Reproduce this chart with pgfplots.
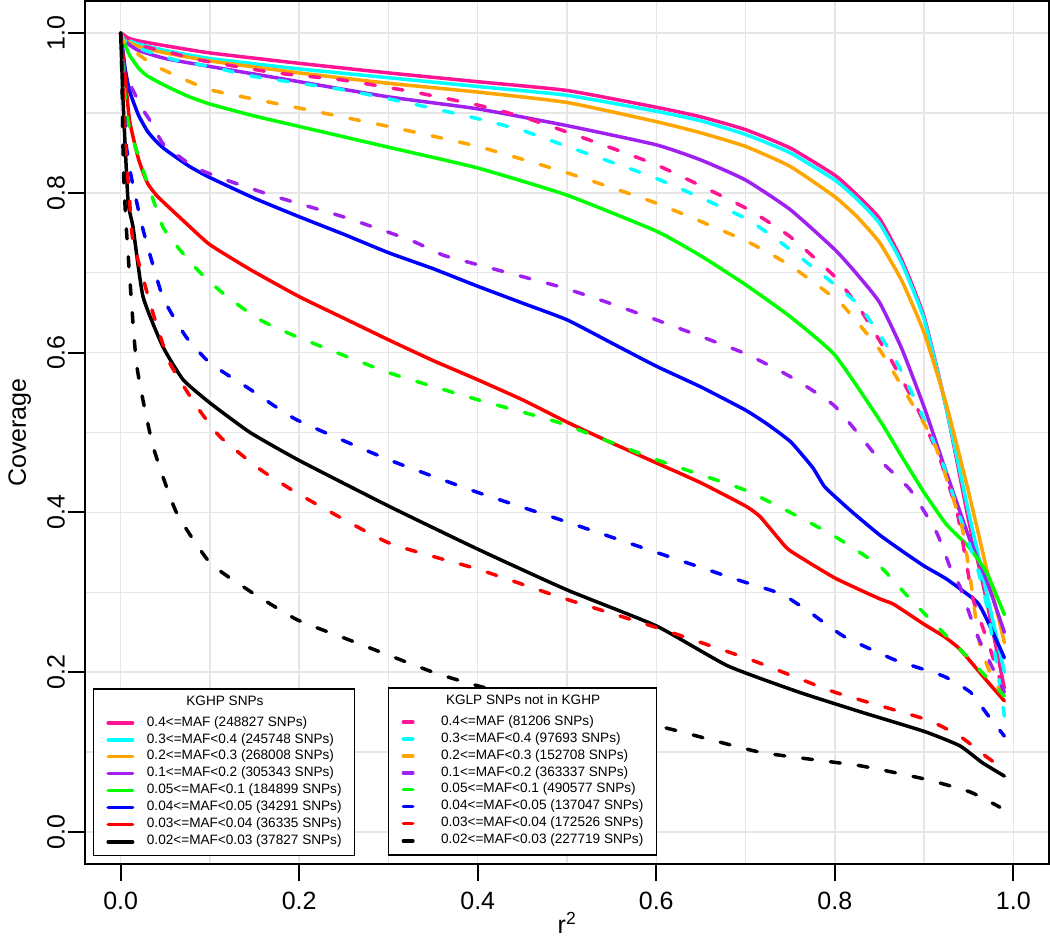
\documentclass[border=0pt]{standalone}
\usepackage{fontspec}
\setmainfont{Liberation Sans}
\usepackage{pgfplots}
\pgfplotsset{compat=1.18}
\definecolor{cPink}{HTML}{FF1493}
\definecolor{cCyan}{HTML}{00FFFF}
\definecolor{cOrange}{HTML}{FFA500}
\definecolor{cPurple}{HTML}{A020F0}
\definecolor{cGreen}{HTML}{00FF00}
\definecolor{cBlue}{HTML}{0000FF}
\definecolor{cRed}{HTML}{FF0000}
\definecolor{cGrid}{HTML}{E6E6E6}
\pgfplotsset{
  base/.style={
    scale only axis, width=964pt, height=863pt,
    xmin=-0.04, xmax=1.04, ymin=-0.04, ymax=1.04,
    at={(0pt,0pt)}, anchor=south west,
  },
  curve/.style={line width=3.5pt, line cap=round, line join=round, no markers, smooth, tension=0.3},
  dsh/.style={curve, dash pattern=on 10pt off 18pt},
  lgbase/.style={
    legend cell align=left,
    legend style={anchor=north west, draw=black, line width=1.5pt, fill=white,
      font=\fontsize{13.6}{16}\selectfont, inner xsep=13pt, inner ysep=7pt,
      row sep=4.9pt, nodes={inner sep=0pt, text height=9.3pt, text depth=2.7pt}},
  },
}
\begin{document}
\begin{tikzpicture}
\useasboundingbox (-85pt,-78pt) rectangle (965pt,864pt);
\begin{axis}[base, lgbase,
  legend style={at={(axis cs:-0.0314,0.18)}, column sep=12.5pt},
  legend image code/.code={\draw[#1] (0pt,0pt) -- (24.5pt,0pt);},
  xtick={0,0.2,0.4,0.6,0.8,1.0}, ytick={0,0.2,0.4,0.6,0.8,1.0},
  minor xtick={0.1,0.3,0.5,0.7,0.9}, minor ytick={0.1,0.3,0.5,0.7,0.9},
  grid=both, major grid style={cGrid, line width=1.5pt}, minor grid style={cGrid, line width=1.5pt},
  minor tick length=0pt, major tick length=17pt,
  tick pos=left, tick align=outside,
  tick style={black, line width=2pt},
  axis line style={line width=2pt},
  /pgf/number format/fixed, /pgf/number format/fixed zerofill,
  /pgf/number format/precision=1, /pgf/number format/assume math mode=true,
  tick label style={font=\fontsize{25}{30}\selectfont, inner sep=0pt},
  xticklabel style={yshift=-11pt, anchor=north},
  yticklabel style={xshift=-3pt, rotate=90, anchor=south},
  xlabel={r\textsuperscript{2}}, ylabel={Coverage},
  every axis x label/.style={at={(axis description cs:0.5,-0.0811)}, anchor=base, font=\fontsize{25}{30}\selectfont},
  every axis y label/.style={at={(axis description cs:-0.0612,0.5)}, rotate=90, anchor=base, font=\fontsize{25}{30}\selectfont},
]
\addlegendimage{empty legend}
\addlegendentry[text depth=6.7pt]{\makebox[156pt][c]{KGHP SNPs}}
% pink solid
\addplot[curve, cPink] coordinates {(0,1.0) (0.005,0.996) (0.01,0.993) (0.02,0.990) (0.05,0.984) (0.1,0.975) (0.2,0.962) (0.3,0.950) (0.4,0.939) (0.5,0.928) (0.6,0.907) (0.65,0.895) (0.7,0.879) (0.75,0.856) (0.8,0.822) (0.825,0.797) (0.85,0.768) (0.875,0.716) (0.9,0.645) (0.925,0.53) (0.95,0.39) (0.97,0.29) (0.99,0.18)};
\addlegendentry{0.4<=MAF (248827 SNPs)}
% cyan solid
\addplot[curve, cCyan] coordinates {(0,1.0) (0.005,0.994) (0.01,0.99) (0.02,0.986) (0.05,0.978) (0.1,0.968) (0.2,0.955) (0.3,0.944) (0.4,0.933) (0.5,0.922) (0.6,0.902) (0.65,0.89) (0.7,0.873) (0.75,0.85) (0.8,0.816) (0.825,0.792) (0.85,0.762) (0.875,0.712) (0.9,0.642) (0.925,0.53) (0.95,0.40) (0.97,0.30) (0.99,0.20)};
\addlegendentry{0.3<=MAF<0.4 (245748 SNPs)}
% orange solid
\addplot[curve, cOrange] coordinates {(0,1.0) (0.005,0.992) (0.01,0.988) (0.02,0.983) (0.05,0.975) (0.1,0.965) (0.2,0.950) (0.3,0.937) (0.4,0.926) (0.5,0.913) (0.6,0.889) (0.65,0.875) (0.7,0.858) (0.75,0.833) (0.8,0.795) (0.825,0.770) (0.85,0.738) (0.875,0.690) (0.9,0.625) (0.925,0.535) (0.95,0.425) (0.97,0.33) (0.99,0.237)};
\addlegendentry{0.2<=MAF<0.3 (268008 SNPs)}
% purple solid
\addplot[curve, cPurple] coordinates {(0,1.0) (0.005,0.99) (0.01,0.985) (0.02,0.978) (0.05,0.968) (0.1,0.958) (0.2,0.939) (0.3,0.92) (0.4,0.905) (0.5,0.884) (0.6,0.860) (0.65,0.841) (0.7,0.816) (0.75,0.779) (0.8,0.729) (0.825,0.698) (0.85,0.663) (0.875,0.605) (0.9,0.532) (0.925,0.45) (0.95,0.37) (0.97,0.315) (0.99,0.25)};
\addlegendentry{0.1<=MAF<0.2 (305343 SNPs)}
% green solid
\addplot[curve, cGreen] coordinates {(0,1.0) (0.005,0.985) (0.01,0.972) (0.02,0.956) (0.03,0.946) (0.05,0.934) (0.075,0.921) (0.1,0.911) (0.15,0.896) (0.2,0.883) (0.3,0.857) (0.4,0.831) (0.5,0.797) (0.6,0.752) (0.65,0.721) (0.7,0.685) (0.75,0.645) (0.8,0.597) (0.85,0.516) (0.875,0.47) (0.9,0.425) (0.925,0.385) (0.95,0.357) (0.97,0.325) (0.99,0.272)};
\addlegendentry{0.05<=MAF<0.1 (184899 SNPs)}
% blue solid
\addplot[curve, cBlue] coordinates {(0,1.0) (0.005,0.955) (0.01,0.927) (0.02,0.897) (0.03,0.877) (0.04,0.864) (0.05,0.854) (0.077,0.833) (0.1,0.819) (0.15,0.793) (0.2,0.77) (0.25,0.748) (0.3,0.725) (0.35,0.705) (0.4,0.683) (0.45,0.662) (0.5,0.641) (0.55,0.612) (0.6,0.583) (0.65,0.557) (0.7,0.528) (0.725,0.51) (0.75,0.489) (0.765,0.470) (0.776,0.455) (0.788,0.433) (0.8,0.42) (0.82,0.40) (0.85,0.372) (0.875,0.352) (0.9,0.333) (0.926,0.316) (0.96,0.287) (0.975,0.255) (0.99,0.218)};
\addlegendentry{0.04<=MAF<0.05 (34291 SNPs)}
% red solid
\addplot[curve, cRed] coordinates {(0,1.0) (0.005,0.945) (0.01,0.89) (0.02,0.842) (0.03,0.812) (0.04,0.797) (0.05,0.786) (0.075,0.76) (0.1,0.735) (0.145,0.704) (0.2,0.67) (0.25,0.643) (0.3,0.616) (0.35,0.59) (0.4,0.566) (0.45,0.541) (0.5,0.513) (0.55,0.487) (0.6,0.462) (0.65,0.437) (0.7,0.408) (0.716,0.395) (0.738,0.366) (0.75,0.352) (0.8,0.318) (0.85,0.292) (0.866,0.285) (0.9,0.26) (0.922,0.245) (0.94,0.229) (0.969,0.191) (0.99,0.164)};
\addlegendentry{0.03<=MAF<0.04 (36335 SNPs)}
% black solid
\addplot[curve, black] coordinates {(0,1.0) (0.0026,0.916) (0.0082,0.79) (0.0138,0.757) (0.025,0.67) (0.047,0.608) (0.07,0.566) (0.1,0.537) (0.145,0.5) (0.2,0.465) (0.3,0.408) (0.4,0.354) (0.5,0.303) (0.6,0.258) (0.68,0.208) (0.76,0.175) (0.83,0.15) (0.9,0.126) (0.94,0.108) (0.965,0.087) (0.99,0.07)};
\addlegendentry[text depth=4.2pt]{0.02<=MAF<0.03 (37827 SNPs)}
\end{axis}
\begin{axis}[base, lgbase, hide axis,
  legend style={at={(axis cs:0.2993,0.181)}, column sep=26.5pt},
  legend image code/.code={\draw[#1] (0pt,0pt) -- (9.5pt,0pt);},
]
\addlegendimage{empty legend}
\addlegendentry[text depth=6.7pt]{\makebox[164pt][c]{KGLP SNPs not in KGHP}}
% pink dashed
\addplot[dsh, cPink] coordinates {(0,1.0) (0.02,0.985) (0.057,0.975) (0.089,0.966) (0.119,0.96) (0.174,0.95) (0.249,0.941) (0.324,0.927) (0.399,0.91) (0.45,0.895) (0.5,0.876) (0.6,0.835) (0.7,0.781) (0.75,0.745) (0.8,0.695) (0.828,0.655) (0.863,0.591) (0.893,0.529) (0.918,0.466) (0.937,0.4) (0.948,0.333) (0.955,0.291) (0.973,0.233) (0.985,0.191) (0.99,0.175)};
\addlegendentry{0.4<=MAF (81206 SNPs)}
% cyan dashed
\addplot[dsh, cCyan] coordinates {(0,1.0) (0.005,0.99) (0.025,0.979) (0.062,0.966) (0.1,0.958) (0.152,0.945) (0.249,0.929) (0.324,0.912) (0.399,0.893) (0.45,0.878) (0.5,0.858) (0.6,0.818) (0.7,0.768) (0.75,0.729) (0.8,0.685) (0.828,0.658) (0.866,0.595) (0.895,0.529) (0.922,0.458) (0.94,0.395) (0.959,0.333) (0.969,0.29) (0.98,0.22) (0.99,0.145)};
\addlegendentry{0.3<=MAF<0.4 (97693 SNPs)}
% orange dashed
\addplot[dsh, cOrange] coordinates {(0,1.0) (0.005,0.985) (0.0176,0.975) (0.04,0.958) (0.1,0.929) (0.2,0.906) (0.3,0.883) (0.4,0.858) (0.5,0.825) (0.6,0.787) (0.7,0.740) (0.75,0.709) (0.8,0.668) (0.81,0.658) (0.85,0.604) (0.884,0.541) (0.91,0.491) (0.928,0.433) (0.943,0.379) (0.952,0.316) (0.962,0.237) (0.977,0.191) (0.99,0.17)};
\addlegendentry{0.2<=MAF<0.3 (152708 SNPs)}
% purple dashed
\addplot[dsh, cPurple] coordinates {(0,1.0) (0.003,0.96) (0.006,0.945) (0.0134,0.929) (0.025,0.904) (0.033,0.89) (0.047,0.862) (0.066,0.845) (0.084,0.831) (0.118,0.816) (0.174,0.795) (0.249,0.77) (0.324,0.741) (0.361,0.722) (0.4,0.71) (0.49,0.683) (0.537,0.666) (0.6,0.641) (0.697,0.6) (0.75,0.57) (0.8,0.533) (0.85,0.466) (0.884,0.429) (0.914,0.375) (0.933,0.32) (0.94,0.308) (0.96,0.245) (0.99,0.175)};
\addlegendentry{0.1<=MAF<0.2 (363337 SNPs)}
% green dashed
\addplot[dsh, cGreen] coordinates {(0,1.0) (0.004,0.93) (0.008,0.89) (0.014,0.866) (0.025,0.829) (0.047,0.758) (0.066,0.729) (0.089,0.7) (0.119,0.67) (0.156,0.641) (0.197,0.62) (0.3,0.575) (0.4,0.541) (0.492,0.512) (0.6,0.466) (0.697,0.429) (0.75,0.4) (0.8,0.37) (0.85,0.333) (0.88,0.297) (0.914,0.258) (0.948,0.22) (0.969,0.195) (0.99,0.17)};
\addlegendentry{0.05<=MAF<0.1 (490577 SNPs)}
% blue dashed
\addplot[dsh, cBlue] coordinates {(0,1.0) (0.003,0.92) (0.0064,0.858) (0.0118,0.82) (0.025,0.754) (0.047,0.67) (0.073,0.62) (0.1,0.587) (0.145,0.554) (0.197,0.516) (0.3,0.466) (0.4,0.425) (0.492,0.391) (0.6,0.35) (0.69,0.316) (0.74,0.298) (0.772,0.275) (0.81,0.245) (0.866,0.216) (0.922,0.195) (0.952,0.175) (0.969,0.15) (0.99,0.12)};
\addlegendentry{0.04<=MAF<0.05 (137047 SNPs)}
% red dashed
\addplot[dsh, cRed] coordinates {(0,1.0) (0.003,0.92) (0.006,0.85) (0.01,0.79) (0.0138,0.74) (0.036,0.65) (0.055,0.587) (0.085,0.533) (0.111,0.495) (0.156,0.454) (0.204,0.42) (0.3,0.362) (0.4,0.329) (0.492,0.294) (0.6,0.256) (0.705,0.216) (0.8,0.175) (0.902,0.141) (0.94,0.12) (0.969,0.095) (0.99,0.078)};
\addlegendentry{0.03<=MAF<0.04 (172526 SNPs)}
% black dashed
\addplot[dsh, black] coordinates {(0,1.0) (0.0015,0.94) (0.003,0.83) (0.0064,0.754) (0.0176,0.587) (0.0362,0.483) (0.0624,0.4) (0.1,0.337) (0.144,0.302) (0.197,0.266) (0.25,0.243) (0.287,0.227) (0.35,0.2) (0.4,0.183) (0.5,0.155) (0.608,0.131) (0.716,0.1) (0.828,0.083) (0.902,0.066) (0.952,0.05) (0.985,0.031)};
\addlegendentry[text depth=4.2pt]{0.02<=MAF<0.03 (227719 SNPs)}
\end{axis}
\end{tikzpicture}
\end{document}
